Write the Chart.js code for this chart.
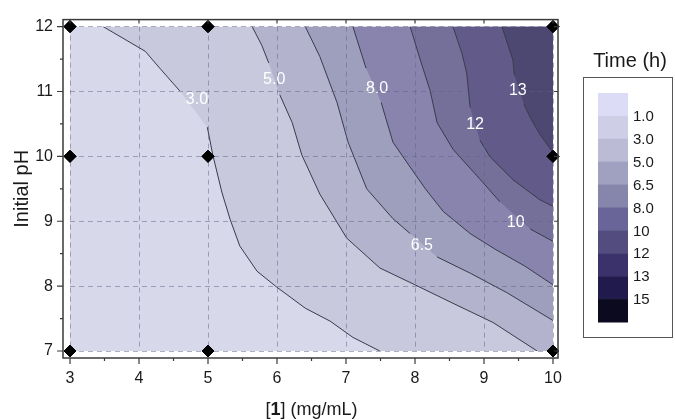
<!DOCTYPE html>
<html>
<head>
<meta charset="utf-8">
<script src="https://cdn.jsdelivr.net/npm/chart.js@4.4.1/dist/chart.umd.min.js"></script>
<style>
  html, body { margin: 0; padding: 0; background: #fff; }
  #wrap { width: 675px; height: 420px; }
</style>
</head>
<body>
<div id="wrap"><canvas id="chart" width="675" height="420"></canvas></div>
<script>
'use strict';

/* ====== data ====== */
const xTicks = [3, 4, 5, 6, 7, 8, 9, 10];
const yTicks = [7, 8, 9, 10, 11, 12];

const legendLevels = ['1.0', '3.0', '5.0', '6.5', '8.0', '10', '12', '13', '15'];
const legendColors = ['#dcdcf6', '#cecee6', '#bbbbd5', '#a0a0c0', '#8686ad',
                      '#6a6598', '#524c7f', '#3b326c', '#201a4d', '#0b0a1f'];

// measured conditions (black diamonds)
const sampleX = [3, 3, 3, 5, 5, 5, 10, 10, 10];
const sampleY = [7, 10, 12, 7, 10, 12, 7, 10, 12];

// contour lines as [conc, pH]; null = break where the label sits
const line30 = [[3.48, 12], [4.09, 11.62], [4.30, 11.36], [4.59, 11.01], null,
  [4.99, 10.45], [5.07, 10.02], [5.20, 9.45], [5.32, 9.03], [5.46, 8.62], [5.71, 8.23],
  [5.99, 7.99], [6.41, 7.66], [6.77, 7.46], [7.10, 7.21], [7.49, 7.0]];
const line50 = [[5.64, 12], [5.78, 11.71], [5.88, 11.44], null,
  [6.04, 10.95], [6.22, 10.52], [6.36, 10.02], [6.62, 9.42], [7.01, 8.74], [7.49, 8.28],
  [8.0, 8.02], [8.58, 7.72], [9.13, 7.44], [9.77, 7.0]];
const line65 = [[6.41, 12], [6.62, 11.54], [6.87, 10.83], [7.03, 10.22], [7.30, 9.50],
  [7.68, 9.04], [7.93, 8.81], null,
  [8.32, 8.45], [8.80, 8.20], [9.33, 7.90], [10, 7.47]];
const line80 = [[7.10, 12], [7.29, 11.36], null,
  [7.51, 10.83], [7.68, 10.22], [7.88, 9.91], [8.15, 9.50], [8.41, 9.15], [8.80, 8.81],
  [9.16, 8.57], [9.59, 8.31], [10, 8.02]];
const line100 = [[7.93, 12], [8.07, 11.51], [8.22, 11.01], [8.32, 10.52], [8.55, 10.11],
  [8.94, 9.65], [9.23, 9.30], null,
  [9.67, 8.88], [10, 8.69]];
const line120 = [[8.55, 12], [8.68, 11.59], [8.75, 11.28], [8.80, 10.75], null,
  [8.94, 10.25], [9.09, 9.99], [9.42, 9.64], [9.81, 9.33], [10, 9.23]];
const line130 = [[9.26, 12], [9.42, 11.48], [9.44, 11.25], null,
  [9.58, 10.80], [9.67, 10.60], [9.81, 10.34], [10, 10.06]];

const contourLines = [line30, line50, line65, line80, line100, line120, line130];

const labelText = ['3.0', '5.0', '8.0', '13', '12', '10', '6.5'];
const labelX = [4.84, 5.96, 7.45, 9.49, 8.87, 9.46, 8.10];
const labelY = [10.87, 11.18, 11.05, 11.01, 10.49, 8.98, 8.63];

/* ====== styling helpers ====== */
const FONT = "'Liberation Sans', Arial, sans-serif";

// plot fills are the legend colours shown at 80 % over white
function tint(hex, a) {
  const n = parseInt(hex.slice(1), 16);
  const c = [n >> 16, (n >> 8) & 255, n & 255].map(v => Math.round(255 - a * (255 - v)));
  return `rgb(${c[0]},${c[1]},${c[2]})`;
}
const regionColors = legendColors.map(c => tint(c, 0.8));

const xMin = xTicks[0], xMax = xTicks[xTicks.length - 1];
const yMin = yTicks[0], yMax = yTicks[yTicks.length - 1];

/* ====== datasets ====== */
const datasets = [];

datasets.push({
  data: sampleX.map((x, i) => ({ x, y: sampleY[i] })),
  showLine: false, pointStyle: 'rectRot', pointRadius: 6,
  pointBackgroundColor: '#000', pointBorderColor: '#000', clip: false, order: 0
});

contourLines.forEach(ln => {
  datasets.push({
    data: ln.map((p, i) => p ? { x: p[0], y: p[1] } : { x: ln[i - 1][0], y: null }),
    borderColor: '#3a3a4c', borderWidth: 1, pointRadius: 0, fill: false, tension: 0, order: 10
  });
});

contourLines.forEach((ln, k) => {
  const pts = ln.filter(Boolean).map(([x, y]) => ({ x, y }));
  if (pts[pts.length - 1].x < xMax) pts.push({ x: xMax, y: yMin });
  datasets.push({
    data: pts, fill: 'end', backgroundColor: regionColors[k + 2],
    borderColor: 'transparent', borderWidth: 0, pointRadius: 0, tension: 0, order: 50 - k
  });
});

datasets.push({
  data: [{ x: xMin, y: yMin }, { x: xMax, y: yMin }], fill: 'end',
  backgroundColor: regionColors[1], borderColor: 'transparent', borderWidth: 0,
  pointRadius: 0, order: 60
});

/* ====== plugins ====== */
const contourLabels = {
  id: 'contourLabels',
  afterDatasetsDraw(chart) {
    const { ctx, scales: { x, y } } = chart;
    ctx.save();
    ctx.font = `16px ${FONT}`;
    ctx.fillStyle = '#fff';
    ctx.textAlign = 'center';
    ctx.textBaseline = 'middle';
    labelText.forEach((t, i) => ctx.fillText(t, x.getPixelForValue(labelX[i]), y.getPixelForValue(labelY[i])));
    ctx.restore();
  }
};

const frame = {
  id: 'frame',
  afterDraw(chart) {
    const { ctx, chartArea: a, scales: { x, y } } = chart;
    const L = a.left - 7, T = a.top - 7, R = a.right + 5, B = a.bottom + 7;
    ctx.save();

    // black diamonds again so they sit above the dashed grid
    chart.getDatasetMeta(0).data.forEach(p => p.draw(ctx, a));

    ctx.strokeStyle = '#3a3a3a';
    ctx.lineWidth = 1.5;
    ctx.strokeRect(L, T, R - L, B - T);

    ctx.lineWidth = 1.2;
    ctx.beginPath();
    for (let v = xMin; v <= xMax; v += 0.5) {
      const px = x.getPixelForValue(v);
      const major = Number.isInteger(v);
      ctx.moveTo(px, B); ctx.lineTo(px, B + (major ? 6 : 3));
      if (major) { ctx.moveTo(px, T); ctx.lineTo(px, T + 4); }
    }
    for (let v = yMin; v <= yMax; v += 0.5) {
      const py = y.getPixelForValue(v);
      const major = Number.isInteger(v);
      ctx.moveTo(L, py); ctx.lineTo(L - (major ? 6 : 3), py);
      if (major) { ctx.moveTo(R, py); ctx.lineTo(R - 4, py); }
    }
    ctx.stroke();

    // x title with bold compound number
    ctx.fillStyle = '#1a1a1a';
    ctx.textBaseline = 'alphabetic';
    const parts = [['[', 'normal'], ['1', 'bold'], ['] (mg/mL)', 'normal']];
    let w = 0;
    parts.forEach(([t, wt]) => { ctx.font = `${wt} 18px ${FONT}`; w += ctx.measureText(t).width; });
    let cx = (a.left + a.right) / 2 - w / 2;
    parts.forEach(([t, wt]) => {
      ctx.font = `${wt} 18px ${FONT}`;
      ctx.fillText(t, cx, 415);
      cx += ctx.measureText(t).width;
    });

    // colour scale legend
    ctx.font = `20px ${FONT}`;
    ctx.textAlign = 'center';
    ctx.fillText('Time (h)', 630, 67);
    ctx.strokeStyle = '#555';
    ctx.lineWidth = 1;
    ctx.strokeRect(583.5, 77.5, 89, 260);
    const sh = 22.9;
    legendColors.forEach((c, i) => {
      ctx.fillStyle = c;
      ctx.fillRect(598, 93 + i * sh, 30, sh + 0.5);
    });
    ctx.fillStyle = '#1a1a1a';
    ctx.font = `15px ${FONT}`;
    ctx.textAlign = 'left';
    ctx.textBaseline = 'middle';
    legendLevels.forEach((t, i) => ctx.fillText(t, 633, 93 + (i + 1) * sh + 1));
    ctx.restore();
  }
};

/* ====== chart ====== */
const gridOpts = { color: 'rgba(95,95,135,0.5)', lineWidth: 1, drawTicks: false, z: 1 };
const borderOpts = { display: false, dash: [5, 4] };

new Chart(document.getElementById('chart'), {
  type: 'line',
  data: { datasets },
  options: {
    responsive: false,
    animation: false,
    events: [],
    devicePixelRatio: 1,
    layout: { padding: { left: 0, top: 23, right: 122, bottom: 0 } },
    plugins: { legend: { display: false }, tooltip: { enabled: false } },
    scales: {
      x: {
        type: 'linear', min: xMin, max: xMax,
        afterFit: s => { s.height = 69; },
        afterBuildTicks: s => { s.ticks = xTicks.map(v => ({ value: v })); },
        grid: gridOpts, border: borderOpts,
        ticks: { padding: 18, color: '#1a1a1a', font: { family: FONT, size: 16 } }
      },
      y: {
        type: 'linear', min: yMin, max: yMax,
        afterFit: s => { s.width = 70; },
        afterBuildTicks: s => { s.ticks = yTicks.map(v => ({ value: v })); },
        grid: gridOpts, border: borderOpts,
        ticks: { padding: 17, color: '#1a1a1a', font: { family: FONT, size: 16 } },
        title: { display: true, text: 'Initial pH', color: '#1a1a1a',
                 font: { family: FONT, size: 20 }, padding: { top: 10, bottom: 0 } }
      }
    }
  },
  plugins: [contourLabels, frame]
});
</script>
</body>
</html>
